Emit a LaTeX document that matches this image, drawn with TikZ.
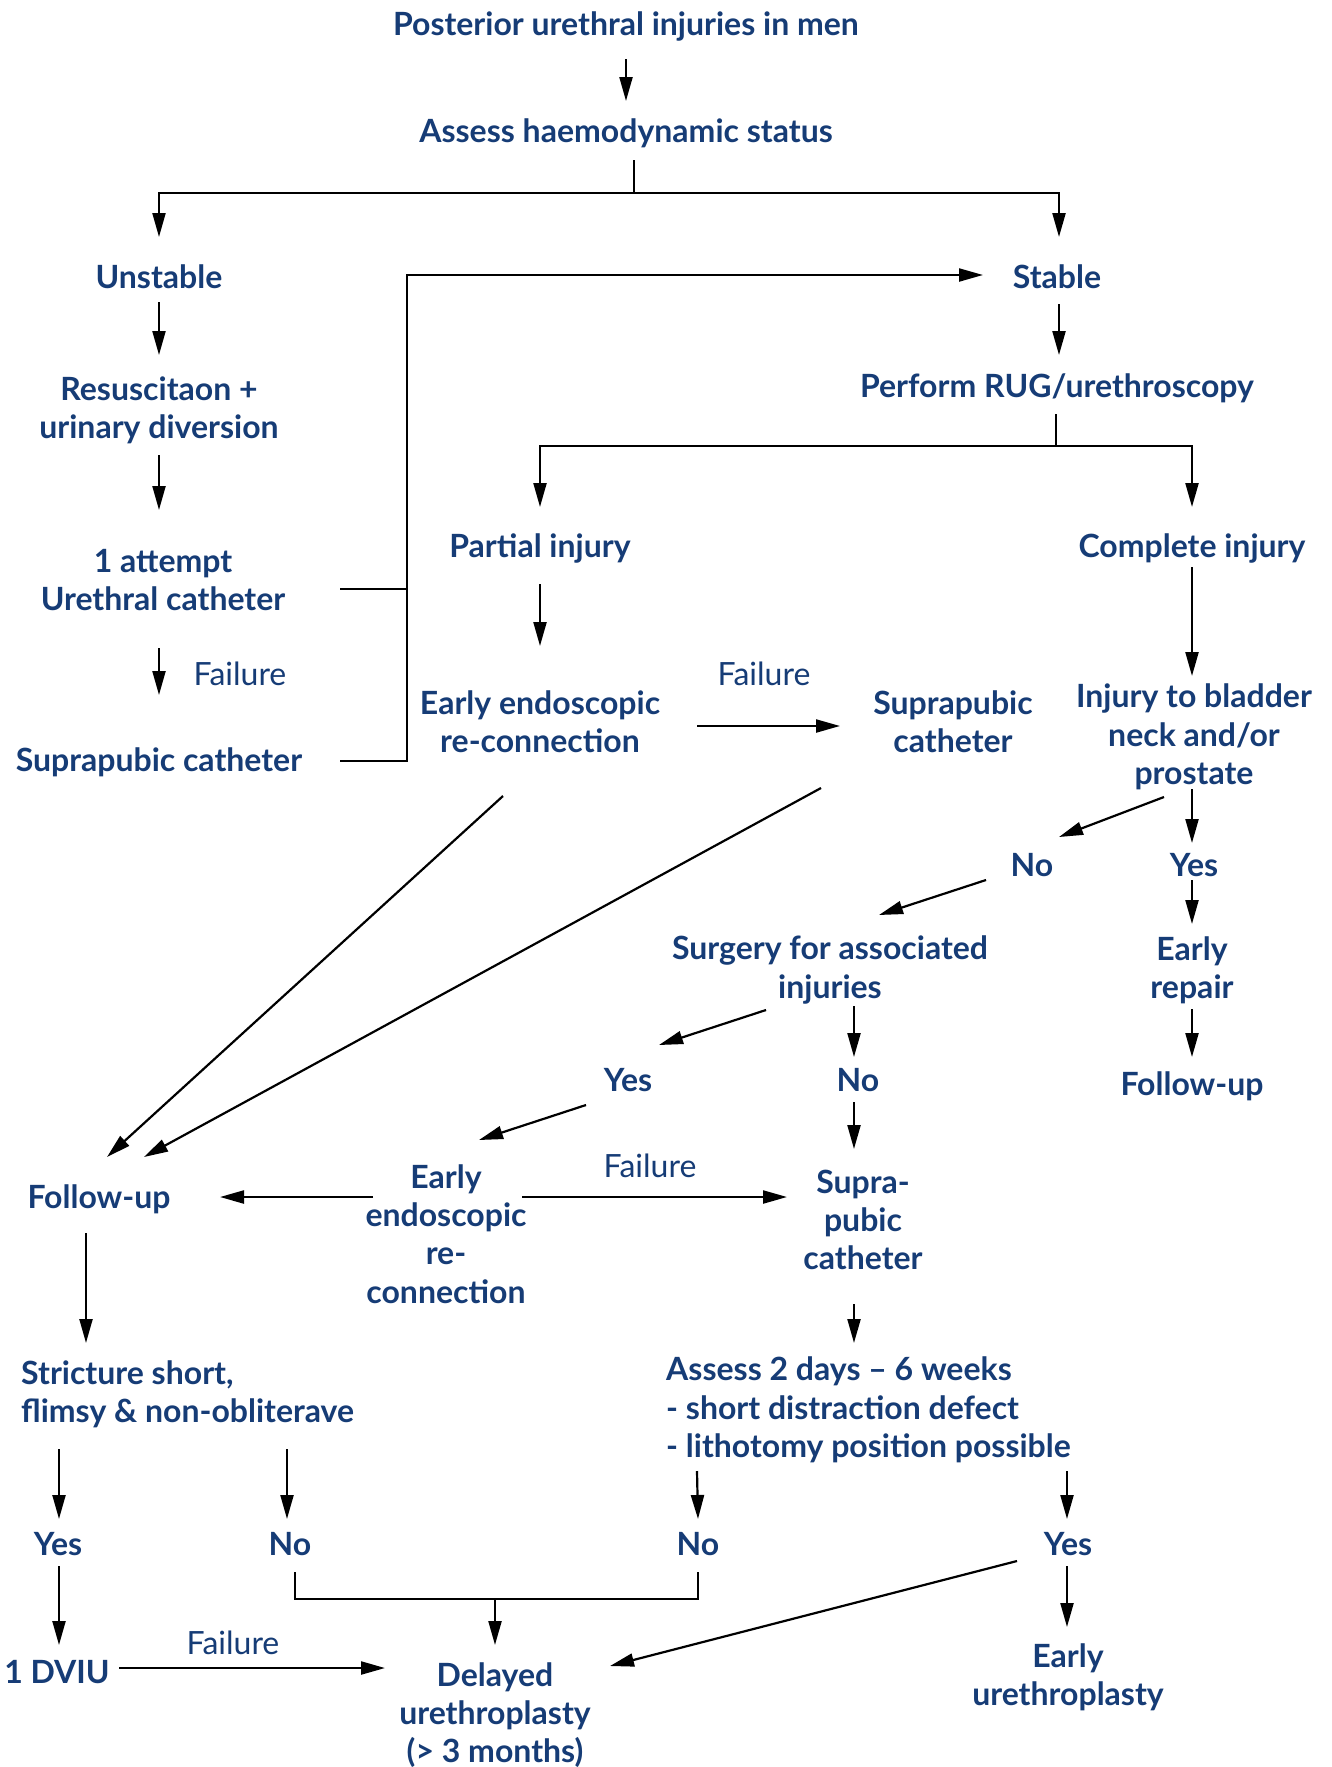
\documentclass[tikz,border=0pt]{standalone}
\usepackage{fontspec}
\setmainfont{Lato}
\usetikzlibrary{arrows.meta}
\definecolor{tb}{RGB}{22,60,118}
\newcommand\myfs{\fontsize{32}{38.3}\selectfont}
\tikzset{
  x=1pt,y=-1pt,
  t/.style={text=tb, font=\bfseries\myfs, align=center, inner sep=0pt},
  tl/.style={text=tb, font=\bfseries\myfs, align=left, inner sep=0pt, anchor=west},
  fl/.style={text=tb, font=\myfs, inner sep=0pt},
  arr/.style={-{Triangle[length=24pt,width=13pt]}, line width=2.2pt},
  ln/.style={line width=2.2pt},
}
\begin{document}
\begin{tikzpicture}
\useasboundingbox[fill=white] (0,0) rectangle (1332,1767);
% nodes
\node[t] (T) at (626,26) {Posterior urethral injuries in men};
\node[t] (A) at (626,133) {Assess haemodynamic status};
\node[t] (U) at (159,277) {Unstable};
\node[t] (S) at (1057,277) {Stable};
\node[t] (R) at (159,410) {Resuscitaon +\\urinary diversion};
\node[t] (P) at (1057,388) {Perform RUG/urethroscopy};
\node[t] (AT) at (163,580) {1 attempt\\Urethral catheter};
\node[t] (PI) at (540,548) {Partial injury};
\node[t] (CI) at (1192,548) {Complete injury};
\node[fl] (F1) at (240,674) {Failure};
\node[t] (SP1) at (159,762) {Suprapubic catheter};
\node[t] (EE1) at (540,722) {Early endoscopic\\re-connection};
\node[fl] (F2) at (764,674) {Failure};
\node[t] (SP2) at (953,722) {Suprapubic\\catheter};
\node[t] (BN) at (1194,737) {Injury to bladder\\neck and/or\\prostate};
\node[t] (NO1) at (1032,865) {No};
\node[t] (YES1) at (1194,865) {Yes};
\node[t] (SU) at (830,970) {Surgery for associated\\injuries};
\node[t] (ER) at (1192,970) {Early\\repair};
\node[t] (YES2) at (628,1080) {Yes};
\node[t] (NO2) at (858,1080) {No};
\node[t] (FU1) at (1192,1086) {Follow-up};
\node[t] (FU2) at (99,1199) {Follow-up};
\node[t] (EE2) at (446,1234) {Early\\endoscopic\\re-\\connection};
\node[fl] (F3) at (650,1166) {Failure};
\node[t] (SP3) at (863,1220) {Supra-\\pubic\\catheter};
\node[tl] (ST) at (21,1394) {Stricture short,\\flimsy \& non-obliterave};
\node[tl] (AS) at (666,1410) {Assess 2 days -- 6 weeks\\- short distraction defect\\- lithotomy position possible};
\node[t] (YES3) at (58,1544) {Yes};
\node[t] (NO3) at (290,1544) {No};
\node[t] (NO4) at (698,1544) {No};
\node[t] (YES4) at (1068,1544) {Yes};
\node[t] (DV) at (57,1672) {1 DVIU};
\node[fl] (F4) at (233,1643) {Failure};
\node[t] (DU) at (495,1715) {Delayed\\urethroplasty\\(> 3 months)};
\node[t] (EU) at (1068,1677) {Early\\urethroplasty};
% connectors
\draw[arr] ([shift={(0,33)}]T.center) -- ([shift={(0,-32)}]A.center);
\draw[arr] ([shift={(8,27)}]A.center) -- ++(0,33) -| ([shift={(0,-40)}]U.center);
\draw[arr] ([shift={(8,27)}]A.center) -- ++(0,33) -| ([shift={(2,-40)}]S.center);
\draw[arr] ([shift={(0,25)}]U.center) -- ([shift={(0,-55)}]R.center);
\draw[arr] ([shift={(0,45)}]R.center) -- ([shift={(-4,-70)}]AT.center);
\draw[arr] ([shift={(-4,68)}]AT.center) -- ([shift={(0,-67)}]SP1.center);
\draw[arr] ([shift={(177,9)}]AT.center) -- ++(67,0) |- ([shift={(-74,-2)}]S.center);
\draw[ln] ([shift={(181,-1)}]SP1.center) -- ++(67,0) -- ++(0,-173);
\draw[arr] ([shift={(2,27)}]S.center) -- ([shift={(2,-33)}]P.center);
\draw[arr] ([shift={(-1,26)}]P.center) -- ++(0,32) -| ([shift={(0,-41)}]PI.center);
\draw[arr] ([shift={(-1,26)}]P.center) -- ++(0,32) -| ([shift={(0,-41)}]CI.center);
\draw[arr] ([shift={(0,36)}]PI.center) -- ([shift={(0,-76)}]EE1.center);
\draw[arr] ([shift={(157,4)}]EE1.center) -- ([shift={(-113,4)}]SP2.center);
\draw[arr] ([shift={(0,19)}]CI.center) -- ([shift={(-2,-61)}]BN.center);
\draw[arr] ([shift={(-30,60)}]BN.center) -- ([shift={(27,-28)}]NO1.center);
\draw[arr] ([shift={(-2,52)}]BN.center) -- ([shift={(-2,-22)}]YES1.center);
\draw[arr] ([shift={(-46,15)}]NO1.center) -- ([shift={(49,-55)}]SU.center);
\draw[arr] ([shift={(-2,15)}]YES1.center) -- ([shift={(0,-46)}]ER.center);
\draw[arr] ([shift={(0,39)}]ER.center) -- ([shift={(0,-29)}]FU1.center);
\draw[arr] ([shift={(-64,40)}]SU.center) -- ([shift={(31,-35)}]YES2.center);
\draw[arr] ([shift={(24,36)}]SU.center) -- ([shift={(-4,-23)}]NO2.center);
\draw[arr] ([shift={(-42,25)}]YES2.center) -- ([shift={(33,-94)}]EE2.center);
\draw[arr] ([shift={(-4,22)}]NO2.center) -- ([shift={(-9,-71)}]SP3.center);
\draw[arr] ([shift={(-37,74)}]EE1.center) -- ([shift={(8,-42)}]FU2.center);
\draw[arr] ([shift={(-132,66)}]SP2.center) -- ([shift={(45,-42)}]FU2.center);
\draw[arr] ([shift={(-73,-37)}]EE2.center) -- ([shift={(121,-2)}]FU2.center);
\draw[arr] ([shift={(76,-37)}]EE2.center) -- ([shift={(-76,-23)}]SP3.center);
\draw[arr] ([shift={(-9,84)}]SP3.center) -- ([shift={(188,-67)}]AS.west);
\draw[arr] ([shift={(-13,34)}]FU2.center) -- ([shift={(65,-51)}]ST.west);
\draw[arr] ([shift={(38,55)}]ST.west) -- ([shift={(1,-25)}]YES3.center);
\draw[arr] ([shift={(266,55)}]ST.west) -- ([shift={(-3,-25)}]NO3.center);
\draw[arr] ([shift={(31,61)}]AS.west) -- ([shift={(0,-25)}]NO4.center);
\draw[arr] ([shift={(401,61)}]AS.west) -- ([shift={(-1,-25)}]YES4.center);
\draw[arr] ([shift={(1,22)}]YES3.center) -- ([shift={(2,-27)}]DV.center);
\draw[ln] ([shift={(5,28)}]NO3.center) -- ++(0,27) -| ([shift={(0,28)}]NO4.center);
\draw[arr] ([shift={(0,-116)}]DU.center) -- ([shift={(0,-70)}]DU.center);
\draw[arr] ([shift={(62,-4)}]DV.center) -- ([shift={(-110,-47)}]DU.center);
\draw[arr] ([shift={(-51,17)}]YES4.center) -- ([shift={(115,-49)}]DU.center);
\draw[arr] ([shift={(-1,22)}]YES4.center) -- ([shift={(-1,-50)}]EU.center);
\end{tikzpicture}
\end{document}
